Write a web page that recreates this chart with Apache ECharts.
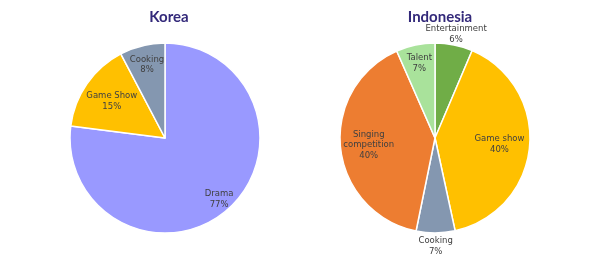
<!DOCTYPE html>
<html><head><meta charset="utf-8">
<script src="https://cdn.jsdelivr.net/npm/echarts@6/dist/echarts.min.js"></script>
<style>html,body{margin:0;padding:0;background:#fff}#c{width:600px;height:259px}</style>
</head><body><div id="c"></div>
<script>
const koreaCategories = ['Drama', 'Game Show', 'Cooking'];
const koreaValues = [77, 15.3, 7.7];
const koreaColors = ['#9999ff', '#ffc000', '#8497b0'];
const indoCategories = ['Entertainment', 'Game show', 'Cooking', 'Singing\ncompetition', 'Talent'];
const indoValues = [6.4, 40.2, 6.6, 40.2, 6.6];
const indoColors = ['#70ad47', '#ffc000', '#8497b0', '#ed7d31', '#a9e29b'];
// label ring per slice: radial distance as fraction of radius
const koreaLabelRing = [0.83, 0.65, 0.76];
const indoLabelRing = [1.08, 0.65, 1.11, 0.67, 0.77];

const R = 95;
const font = 'DejaVu Sans';
function labelFmt(p) { return p.name + '\n' + Math.round(p.value) + '%'; }

function buildSeries(cx, cy, cats, vals, colors, rings) {
  const series = [{
    type: 'pie', center: [cx, cy], radius: [0, R], startAngle: 90, clockwise: true,
    animation: false, silent: true,
    itemStyle: { borderColor: '#fff', borderWidth: 1.5 },
    label: { show: false }, labelLine: { show: false },
    data: cats.map((n, i) => ({ name: n, value: vals[i], itemStyle: { color: colors[i] } }))
  }];
  const uniq = [...new Set(rings)];
  uniq.forEach(f => {
    const half = 0.3;
    series.push({
      type: 'pie', center: [cx, cy], radius: [R * (f - half), R * (f + half)],
      startAngle: 90, clockwise: true, animation: false, silent: true, z: 5,
      itemStyle: { color: 'rgba(0,0,0,0)', borderWidth: 0 },
      labelLine: { show: false },
      label: { show: true, position: 'inside', formatter: labelFmt,
        fontFamily: font, fontSize: 8.5, color: '#404040', lineHeight: 10.5 },
      data: cats.map((n, i) => ({ name: n, value: vals[i],
        label: { show: rings[i] === f } }))
    });
  });
  return series;
}

const chart = echarts.init(document.getElementById('c'), null, { renderer: 'canvas' });
chart.setOption({
  backgroundColor: '#fff',
  title: [
    { text: 'Korea', left: 164, top: 5, textAlign: 'center',
      textStyle: { fontFamily: 'Lato', fontWeight: 'bold', fontSize: 15, color: '#33297a' } },
    { text: 'Indonesia', left: 435, top: 5, textAlign: 'center',
      textStyle: { fontFamily: 'Lato', fontWeight: 'bold', fontSize: 15, color: '#33297a' } }
  ],
  series: [
    ...buildSeries(165, 138, koreaCategories, koreaValues, koreaColors, koreaLabelRing),
    ...buildSeries(435, 138, indoCategories, indoValues, indoColors, indoLabelRing)
  ]
});
</script></body></html>
